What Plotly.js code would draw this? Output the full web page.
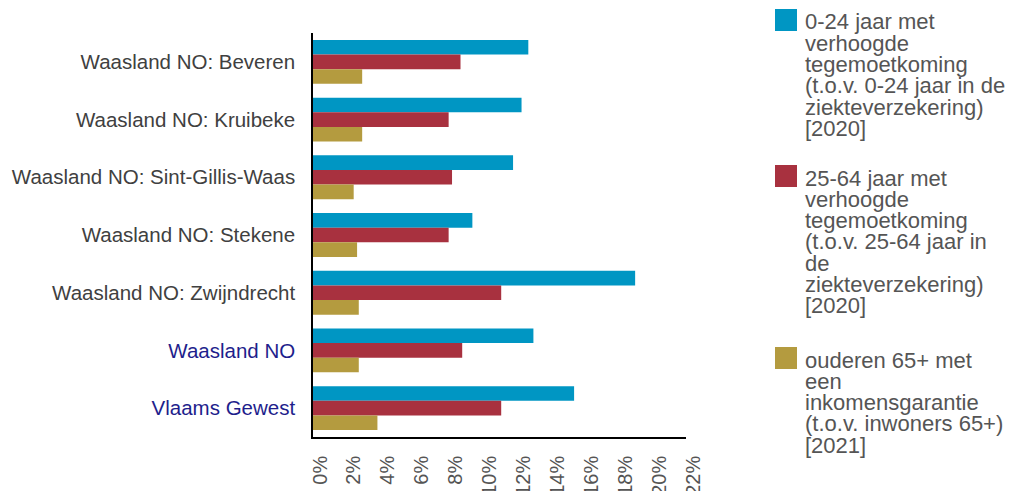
<!DOCTYPE html>
<html>
<head>
<meta charset="utf-8">
<script src="https://cdn.plot.ly/plotly-3.0.1.min.js"></script>
<style>html,body{margin:0;padding:0;background:#fff;}#chart{width:1010px;height:491px;}</style>
</head>
<body>
<div id="chart"></div>
<script>
// ---- data ----
const categories = [
  "Waasland NO: Beveren",
  "Waasland NO: Kruibeke",
  "Waasland NO: Sint-Gillis-Waas",
  "Waasland NO: Stekene",
  "Waasland NO: Zwijndrecht",
  "Waasland NO",
  "Vlaams Gewest"
];
const highlighted = ["Waasland NO", "Vlaams Gewest"];
const youngTG = [12.7, 12.3, 11.8, 9.4, 19.0, 13.0, 15.4];   // 0-24 jaar met verhoogde tegemoetkoming
const adultTG = [8.7, 8.0, 8.2, 8.0, 11.1, 8.8, 11.1];      // 25-64 jaar met verhoogde tegemoetkoming
const elderIGO = [2.9, 2.9, 2.4, 2.6, 2.7, 2.7, 3.8];       // ouderen 65+ met inkomensgarantie
const seriesNames = [
  ["0-24 jaar met", "verhoogde", "tegemoetkoming", "(t.o.v. 0-24 jaar in de", "ziekteverzekering)", "[2020]"],
  ["25-64 jaar met", "verhoogde", "tegemoetkoming", "(t.o.v. 25-64 jaar in", "de", "ziekteverzekering)", "[2020]"],
  ["ouderen 65+ met", "een", "inkomensgarantie", "(t.o.v. inwoners 65+)", "[2021]"]
];
const xTickVals = [0, 2, 4, 6, 8, 10, 12, 14, 16, 18, 20, 22];
const xTickText = ["0%", "2%", "4%", "6%", "8%", "10%", "12%", "14%", "16%", "18%", "20%", "22%"];

// ---- styling ----
const colors = ["#0096C3", "#A8313F", "#B49B3F"];
const W = 1010, H = 491;
const M = {l: 313, r: 324, t: 33, b: 54};
const plotW = W - M.l - M.r, plotH = H - M.t - M.b;
const px2x = p => (p - M.l) / plotW;
const px2y = p => (H - M.b - p) / plotH;

const seriesValues = [youngTG, adultTG, elderIGO];
const traces = seriesValues.map((vals, i) => ({
  type: "bar",
  orientation: "h",
  y: categories,
  x: vals,
  name: seriesNames[i].join(" "),
  marker: {color: colors[i]},
  hovertemplate: "%{y}: %{x:.1f}%<extra></extra>"
}));

const tickText = categories.map(c =>
  highlighted.includes(c) ? '<span style="color:#1E1E8C">' + c + '</span>' : c);

// legend drawn manually (tight line spacing like the original)
const legendTop = [22, 178, 360];
const lineStep = 21.25;
const annotations = [];
const shapes = [];
seriesNames.forEach((lines, i) => {
  lines.forEach((ln, k) => {
    annotations.push({
      xref: "paper", yref: "paper",
      x: px2x(804), y: px2y(legendTop[i] + k * lineStep),
      xanchor: "left", yanchor: "middle",
      text: ln, showarrow: false, borderpad: 0,
      font: {family: "Liberation Sans, Arial, sans-serif", size: 22, color: "#555555"}
    });
  });
  shapes.push({
    type: "rect", xref: "paper", yref: "paper",
    x0: px2x(775), x1: px2x(797),
    y0: px2y(legendTop[i] - 13), y1: px2y(legendTop[i] + 9),
    fillcolor: colors[i], line: {width: 0}
  });
});

const layout = {
  width: W, height: H,
  margin: M,
  paper_bgcolor: "#fff", plot_bgcolor: "#fff",
  barmode: "group",
  bargap: 0.24,
  bargroupgap: 0,
  showlegend: false,
  font: {family: "Liberation Sans, Arial, sans-serif"},
  xaxis: {
    range: [0, 22],
    tickvals: xTickVals,
    ticktext: xTickText,
    tickangle: -90,
    showgrid: false, zeroline: false,
    showline: true, linecolor: "#000", linewidth: 1.5,
    ticks: "",
    ticklabelstandoff: 9,
    ticklabelshift: 7,
    tickfont: {size: 20, color: "#555555"}
  },
  yaxis: {
    autorange: "reversed",
    tickvals: categories,
    ticktext: tickText,
    showgrid: false, zeroline: false,
    showline: true, linecolor: "#000", linewidth: 1.5,
    ticks: "",
    ticklabelstandoff: 12,
    tickfont: {size: 20.5, color: "#404040"}
  },
  annotations: annotations,
  shapes: shapes
};

Plotly.newPlot("chart", traces, layout, {displayModeBar: false, responsive: false});
</script>
</body>
</html>
